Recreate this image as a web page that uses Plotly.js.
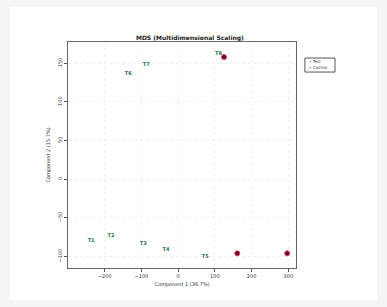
<!DOCTYPE html>
<html><head><meta charset="utf-8">
<script src="https://cdn.plot.ly/plotly-3.0.1.min.js"></script>
<style>
html,body{margin:0;padding:0;background:#f5f5f5;}
#wrap{position:absolute;left:10px;top:7px;width:367px;height:293px;background:#fff;}
#chart{width:367px;height:293px;}
</style></head>
<body><div id="wrap"><div id="chart"></div></div>
<script>
// Group A (green text labels)
const testLabels = ["T1","T2","T3","T4","T5","T6","T7","T8"];
const testX = [-237, -183, -95, -33, 74, -136, -87, 110];
const testY = [-80, -73, -84, -91, -100, 137, 148, 162];
// Group B (red points)
const ctrlLabels = ["C1","C2","C3"];
const ctrlX = [125, 161, 297];
const ctrlY = [158, -96, -96];
const xTicks = [-200, -100, 0, 100, 200, 300];
const yTicks = [-100, -50, 0, 50, 100, 150];
const legendNames = ["Test", "Control"];
const legendColors = ["#1f7a5c", "#c0203a"];

const traces = [
  {x: testX, y: testY, text: testLabels.map(t => "<b>" + t + "</b>"), mode: "text", type: "scatter",
   name: legendNames[0], textfont: {family: "DejaVu Sans", size: 5, color: "#1d6e55"},
   showlegend: false},
  {x: ctrlX, y: ctrlY, mode: "markers", type: "scatter", name: legendNames[1],
   marker: {size: 5, color: "#5a0c20", line: {color: "#e0405a", width: 1}}, showlegend: false}
];
const annotations = legendNames.map((n, i) => ({
  xref: "paper", yref: "paper", x: 1.05, y: 0.912 - i * 0.027, xanchor: "left", yanchor: "middle",
  text: "<span style='color:" + legendColors[i] + "'>\u2022</span> " + n, showarrow: false,
  font: {size: 4, color: "#333"}
}));
const layout = {
  width: 367, height: 293,
  margin: {l: 58, r: 81, t: 35, b: 32},
  paper_bgcolor: "#ffffff", plot_bgcolor: "#ffffff",
  font: {family: "DejaVu Sans", size: 5, color: "#333"},
  title: {text: "<b>MDS (Multidimensional Scaling)</b>", font: {size: 6, color: "#222"},
          x: 0.49, xanchor: "center", y: 0.895, yanchor: "middle"},
  xaxis: {range: [-300, 321], tickvals: xTicks, ticks: "outside", ticklen: 3,
          tickcolor: "#555", showline: true, mirror: true, linecolor: "#666", linewidth: 1,
          showgrid: true, gridcolor: "#f2f2f2", griddash: "dot", zeroline: false,
          tickfont: {size: 5, color: "#333"},
          title: {text: "Component 1 (36.7%)", font: {size: 5, color: "#333"}, standoff: 4}},
  yaxis: {range: [-115, 177.5], tickvals: yTicks, ticks: "outside", ticklen: 3,
          tickcolor: "#555", showline: true, mirror: true, linecolor: "#666", linewidth: 1,
          showgrid: true, gridcolor: "#f2f2f2", griddash: "dot", zeroline: false,
          tickangle: -90, tickfont: {size: 5, color: "#333"},
          title: {text: "Component 2 (15.7%)", font: {size: 5, color: "#333"}, standoff: 6}},
  showlegend: false,
  shapes: [{type: "rect", xref: "paper", yref: "paper", x0: 1.039, x1: 1.171, y0: 0.867, y1: 0.929,
            line: {color: "#555", width: 1}}],
  annotations: annotations
};
Plotly.newPlot("chart", traces, layout, {displayModeBar: false, staticPlot: true});
</script></body></html>
